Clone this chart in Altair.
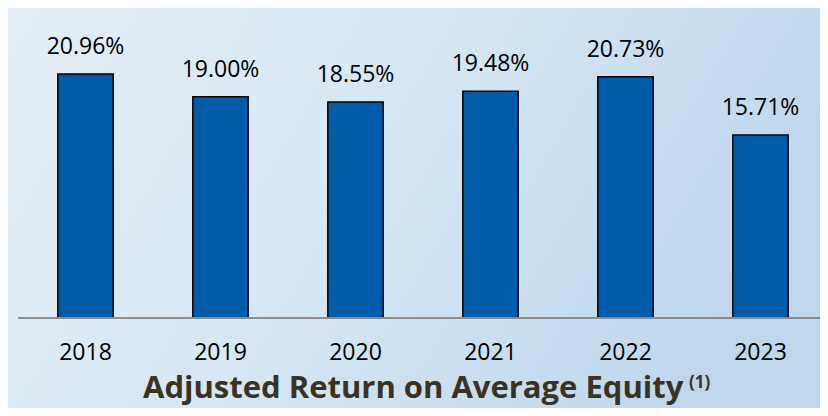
import altair as alt
import pandas as pd

years = ["2018", "2019", "2020", "2021", "2022", "2023"]
values = [20.96, 19.00, 18.55, 19.48, 20.73, 15.71]
labels = ["20.96%", "19.00%", "18.55%", "19.48%", "20.73%", "15.71%"]
title_main = "Adjusted Return on Average Equity"
title_note = "(1)"

df = pd.DataFrame({"year": years, "value": values, "label": labels})

W, H = 802, 310
FONT = "Open Sans"
YDOM = [0, 26.63]

x = alt.X("year:N", sort=years,
          scale=alt.Scale(paddingInner=0.59, paddingOuter=0.295, range=[0, 810]),
          axis=alt.Axis(title=None, domain=False, ticks=False, labelAngle=0, zindex=2,
                        labelFont=FONT, labelFontSize=23, labelColor="#000000",
                        labelBaseline="middle", labelPadding=34))
y = alt.Y("value:Q", scale=alt.Scale(domain=YDOM), axis=None)

bg = alt.Chart(alt.Data(values=[{}])).mark_rect(
    fill=alt.Gradient(gradient="linear", x1=0, y1=0, x2=1, y2=0.3,
                      stops=[alt.GradientStop(color="#E5EEF6", offset=0),
                             alt.GradientStop(color="#D6E7F3", offset=0.5),
                             alt.GradientStop(color="#BFD6EB", offset=1)])
).encode(x=alt.value(-20), x2=alt.value(830), y=alt.value(-10), y2=alt.value(420))

base = alt.Chart(df)
bars = base.mark_bar(color="#005BAA", stroke="#000000", strokeWidth=1.5).encode(x=x, y=y)
text = base.mark_text(dy=-27, font=FONT, fontSize=23, color="#000000", baseline="middle").encode(
    x=x, y=y, text="label:N")
rule = alt.Chart(alt.Data(values=[{"v": 0}])).mark_rule(color="#8C8C8C", strokeWidth=2).encode(
    y=alt.Y("v:Q", scale=alt.Scale(domain=YDOM), axis=None),
    x=alt.value(0), x2=alt.value(W + 10))
t1 = alt.Chart(alt.Data(values=[{"t": title_main}])).mark_text(
    align="left", baseline="alphabetic", font=FONT, fontSize=31, fontWeight="bold", color="#3B3226"
).encode(x=alt.value(125), y=alt.value(390), text="t:N")
t2 = alt.Chart(alt.Data(values=[{"t": title_note}])).mark_text(
    align="left", baseline="middle", font=FONT, fontSize=17, fontWeight="bold", color="#3B3226"
).encode(x=alt.value(671), y=alt.value(375), text="t:N")

chart = alt.layer(bg, bars, rule, text, t1, t2).resolve_scale(y="shared").properties(
    width=W, height=H, autosize=alt.AutoSizeParams(type="none"),
    padding={"left": 10, "top": 0, "right": 0, "bottom": 90}
).configure_view(stroke=None)

chart.save("out.html", embed_options={"renderer": "svg", "actions": False})
